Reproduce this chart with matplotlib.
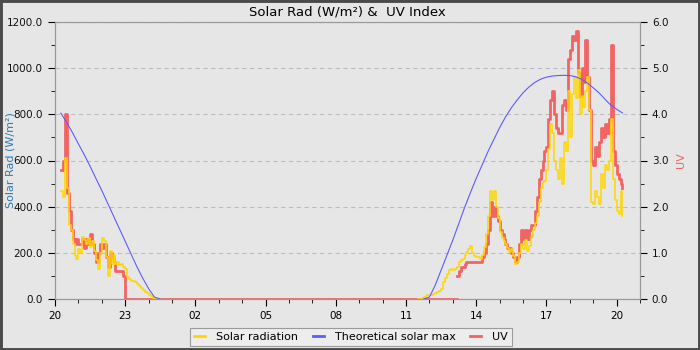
import numpy as np
import matplotlib
matplotlib.use("Agg")
import matplotlib.pyplot as plt
from matplotlib.lines import Line2D
from matplotlib.patches import Rectangle

# ---- data (hours since 20:00 on day 1) ----
x_tick_pos = [0, 3, 6, 9, 12, 15, 18, 21, 24]
x_tick_labels = ["20", "23", "02", "05", "08", "11", "14", "17", "20"]

# evening of day 1, 5-minute samples from 20:15
t_eve = [0.25 + i / 12 for i in range(52)]
solar_eve = [470, 440, 610, 480, 320, 300, 240, 190, 175, 215, 200, 270, 255, 240,
             265, 225, 250, 210, 170, 130, 200, 265, 250, 180, 100, 210, 150, 190,
             150, 160, 148, 150, 140, 130, 95, 85, 80, 78, 72, 65, 58, 48, 40, 32,
             25, 18, 12, 6, 2, 0, 0, 0]
uv_eve_t = [0.25 + i / 12 for i in range(33)] + [3.0, 17.167]
uv_eve = [2.8, 3.0, 4.0, 2.3, 1.9, 1.5, 1.3, 1.2, 1.3, 1.2, 1.2, 1.3, 1.1, 1.3,
          1.2, 1.4, 1.2, 1.0, 0.8, 1.0, 1.2, 1.1, 1.2, 0.9, 0.7, 1.0, 0.9, 0.8,
          0.6, 0.6, 0.6, 0.6, 0.5, 0.0, 0.0]

# day 2, 5-minute samples from 11:30
t_day = [15.5 + i / 12 for i in range(106)]
solar_day = [0, 0, 3, 8, 12, 17, 18, 17, 20, 28, 32, 35, 45, 72, 90, 110, 126, 128,
             126, 132, 140, 160, 168, 172, 190, 205, 215, 228, 200, 185, 182, 182,
             172, 190, 225, 280, 360, 470, 430, 470, 400, 350, 290, 265, 250, 240,
             220, 205, 215, 185, 150, 160, 200, 240, 215, 255, 210, 230, 270, 300,
             330, 360, 420, 480, 505, 510, 560, 650, 760, 720, 600, 560, 520, 610,
             500, 680, 640, 900, 700, 890, 960, 870, 990, 800, 880, 830, 900, 960,
             820, 420, 410, 470, 440, 410, 540, 480, 580, 560, 600, 780, 520, 430,
             380, 370, 470, 360]
uv_day_t = [17.167 + i / 12 for i in range(86)]
uv_day = [0.5, 0.6, 0.7, 0.7, 0.75, 0.8, 0.8, 0.8, 0.8, 0.8, 0.8, 0.8, 0.8, 0.9,
          1.0, 1.2, 1.5, 2.1, 1.8, 2.0, 1.8, 1.7, 1.5, 1.4, 1.3, 1.2, 1.1, 1.1,
          1.0, 0.9, 0.8, 0.9, 1.2, 1.5, 1.3, 1.5, 1.3, 1.5, 1.6, 1.6, 1.9, 2.2,
          2.6, 2.8, 3.0, 3.2, 3.3, 3.9, 4.3, 4.5, 4.0, 3.7, 3.6, 3.6, 4.2, 4.3,
          4.1, 5.2, 5.4, 5.7, 5.6, 5.8, 4.9, 4.4, 5.0, 4.7, 5.6, 4.8, 4.1, 3.0,
          2.9, 3.3, 3.1, 3.4, 3.7, 3.5, 3.8, 3.6, 3.9, 5.5, 3.2, 2.9, 2.7, 2.6,
          2.5, 2.4]

# theoretical solar max, 15-minute samples
t_max_eve = [0.25 + i / 4 for i in range(18)]
max_eve = [805, 765, 720, 672, 625, 575, 522, 470, 415, 360, 305, 250, 195, 140,
           90, 45, 8, 0]
t_max_day = [15.75 + i / 4 for i in range(35)]
max_day = [0, 8, 60, 125, 190, 255, 325, 395, 460, 522, 580, 638, 690, 742, 788,
           828, 862, 893, 918, 938, 952, 961, 966, 968, 969, 968, 963, 952, 936,
           915, 893, 866, 840, 822, 806]

# ---- styling ----
BG = "#e6e6e6"
YEL = "#ffd700"
BLUE = "#5c5cff"
RED = "#f26464"
LBLUE = "#2c7bb0"

plt.rcParams["font.family"] = ["DejaVu Sans"]
fig = plt.figure(figsize=(7, 3.5), dpi=100, facecolor=BG)
ax1 = fig.add_axes([55 / 700, 1 - 299 / 350, 585 / 700, 277 / 350])
ax2 = ax1.twinx()
ax1.set_zorder(ax2.get_zorder() + 1)
ax1.patch.set_visible(False)
ax2.patch.set_visible(True)
ax2.patch.set_facecolor(BG)

# UV on ax2 (underneath)
ax2.plot(uv_eve_t, uv_eve, color=RED, lw=2.0, drawstyle="steps-post", zorder=2)
ax2.plot(uv_day_t, uv_day, color=RED, lw=2.0, drawstyle="steps-post", zorder=2)
ax2.set_ylim(0, 6)
ax2.set_yticks(np.arange(0, 6.01, 1.0))
ax2.set_yticks(np.arange(0.5, 6, 1.0), minor=True)
ax2.yaxis.set_major_formatter(matplotlib.ticker.FormatStrFormatter("%.1f"))
ax2.grid(True, which="major", color="#bdbdbd", linestyle=(0, (4, 3)), lw=0.8)
ax2.set_axisbelow(True)
ax2.set_ylabel("UV", color=RED, fontsize=8)
ax2.yaxis.set_label_coords((676 - 55) / 585, 0.5)

ax1.plot(t_eve, solar_eve, color=YEL, lw=1.1, drawstyle="steps-post", zorder=3)
ax1.plot(t_day, solar_day, color=YEL, lw=1.1, drawstyle="steps-post", zorder=3)
ax1.plot(t_max_eve, max_eve, color=BLUE, lw=0.8, zorder=4)
ax1.plot(t_max_day, max_day, color=BLUE, lw=0.8, zorder=4)
ax1.set_xlim(0, 25)
ax1.set_ylim(0, 1200)
ax1.set_yticks(np.arange(0, 1201, 200))
ax1.set_yticks(np.arange(100, 1200, 200), minor=True)
ax1.yaxis.set_major_formatter(matplotlib.ticker.FormatStrFormatter("%.1f"))
ax1.set_xticks(x_tick_pos)
ax1.set_xticklabels(x_tick_labels)
ax1.set_xticks(np.arange(0, 25.01, 1), minor=True)
ax1.set_ylabel("Solar Rad (W/m²)", color=LBLUE, fontsize=8)
ax1.yaxis.set_label_coords((16 - 55) / 585, 0.5)

for ax in (ax1, ax2):
    for s in ax.spines.values():
        s.set_color("#999999")
    ax.tick_params(which="major", length=5, labelsize=7.5, colors="black")
    ax.tick_params(which="minor", length=3, colors="black")
    ax.tick_params(axis="y", labelcolor="#111111")

ax1.set_title("Solar Rad (W/m²) &  UV Index", fontsize=9.5, pad=5)

handles = [Line2D([], [], color=YEL, lw=2),
           Line2D([], [], color=BLUE, lw=2),
           Line2D([], [], color=RED, lw=2)]
labels = ["Solar radiation", "Theoretical solar max", "UV"]
leg = fig.legend(handles, labels, loc="center", bbox_to_anchor=(351 / 700, 1 - 337 / 350),
                 ncol=3, fontsize=8, frameon=True, fancybox=False, handlelength=1.0,
                 handletextpad=1.0, columnspacing=1.3, borderpad=0.35)
leg.get_frame().set_facecolor("#f0f0f0")
leg.get_frame().set_edgecolor("#888888")
leg.get_frame().set_linewidth(0.8)

fig.patches.append(Rectangle((0, 0), 1, 1, transform=fig.transFigure, fill=False,
                             edgecolor="#4a4a4a", lw=3.5, zorder=10))

fig.savefig("out.png", dpi=100, facecolor=BG)
